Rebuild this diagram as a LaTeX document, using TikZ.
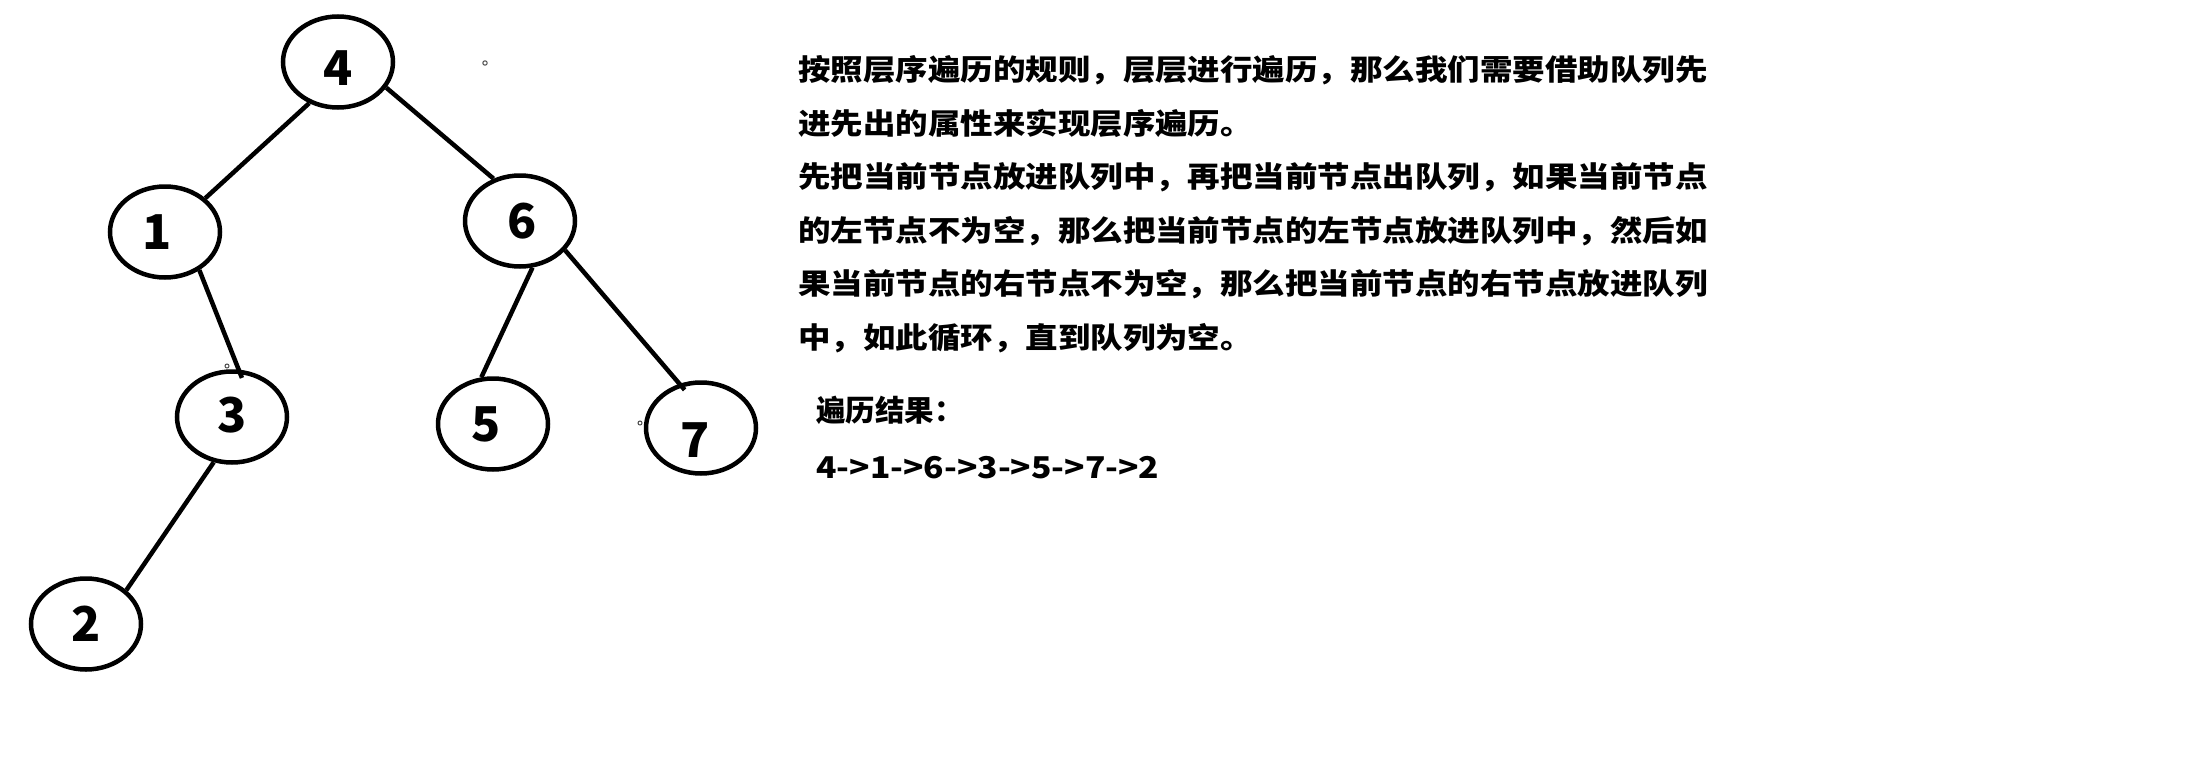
\documentclass[tikz,border=0pt]{standalone}
\usepackage{fontspec}
\setmainfont{Noto Sans CJK SC}
\newfontfamily\cjk[FakeStretch=1.12]{Noto Sans CJK SC}
\newfontfamily\cjkr{Noto Sans CJK SC}
\newfontfamily\cjkd[FakeStretch=1.12]{Noto Sans CJK SC}
\usetikzlibrary{shapes.geometric}
\tikzset{
  tn/.style={draw, line width=4.5pt, ellipse, minimum width=110pt, minimum height=91pt, inner sep=0pt},
  num/.style={inner sep=0pt, font=\cjkr\bfseries\fontsize{48}{48}\selectfont},
  edge/.style={line width=4.5pt},
  txt/.style={anchor=base west, inner sep=0pt, font=\cjk\bfseries\fontsize{29}{29}\selectfont},
  rtxt/.style={anchor=base west, inner sep=0pt, font=\cjkr\bfseries\fontsize{29.5}{29.5}\selectfont},
  dtxt/.style={anchor=base west, inner sep=0pt, font=\cjkd\bfseries\fontsize{30}{30}\selectfont},
  speck/.style={draw=black!70, line width=1pt}
}
\begin{document}
\begin{tikzpicture}[x=1pt, y=-1pt]
\fill[white] (0,0) rectangle (2211,771);
\useasboundingbox (0,0) rectangle (2211,771);

% tree nodes
\node[tn, label={[num, yshift=-6pt]center:4}] (n4) at (338,62) {};
\node[tn, label={[num, xshift=-8pt]center:1}] (n1) at (165,232) {};
\node[tn, label={[num, xshift=2pt]center:6}] (n6) at (520,221) {};
\node[tn, label={[num, yshift=2pt]center:3}] (n3) at (232,417) {};
\node[tn, label={[num, xshift=-7pt]center:5}] (n5) at (493,424) {};
\node[tn, label={[num, xshift=-6pt, yshift=-12pt]center:7}] (n7) at (701,428) {};
\node[tn, label={[num]center:2}] (n2) at (86,624) {};

% edges
\draw[edge] (n4.235.6) -- (n1.40.4);
\draw[edge] (n4.332) -- (n6.122.7);
\draw[edge, shorten >=-9pt] (n1.312) -- (n3.82.5);
\draw[edge] (n3.248.6) -- (n2.40);
\draw[edge] (n6.285.5) -- (n5.104.3);
\draw[edge, shorten >=-8pt] (n6.327.5) -- (n7.116.6);

% specks
\draw[speck] (485,63) circle (2.2);
\draw[speck] (227,366) circle (2);
\draw[speck] (640,423) circle (2);

% text
\node[txt] (t1) at (798,80.5) {按照层序遍历的规则，层层进行遍历，那么我们需要借助队列先};
\node[txt] (t2) at (798,134) {进先出的属性来实现层序遍历。};
\node[txt] (t3) at (798,187.5) {先把当前节点放进队列中，再把当前节点出队列，如果当前节点};
\node[txt] (t4) at (798,241) {的左节点不为空，那么把当前节点的左节点放进队列中，然后如};
\node[txt] (t5) at (798,294.5) {果当前节点的右节点不为空，那么把当前节点的右节点放进队列};
\node[txt] (t6) at (798,348) {中，如此循环，直到队列为空。};
\node[rtxt] (r1) at (816,421) {遍历结果：};
\node[dtxt] (r2) at (816,478.5) {4->1->6->3->5->7->2};
\end{tikzpicture}
\end{document}
